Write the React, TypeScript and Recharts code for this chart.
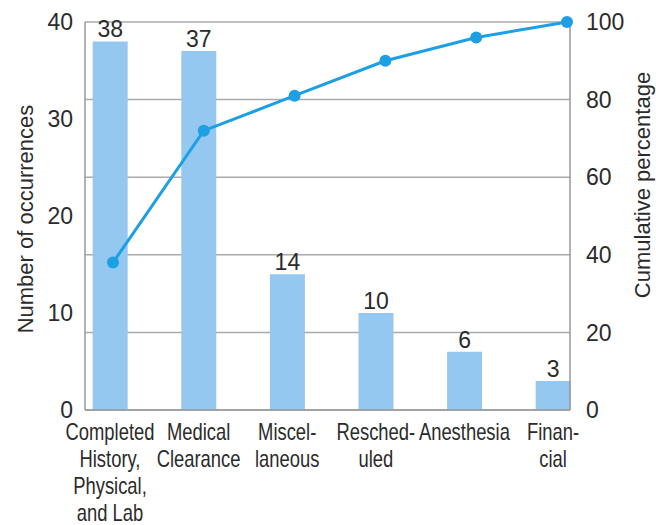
import React from "react";
import {
  ComposedChart,
  Bar,
  Line,
  XAxis,
  YAxis,
  CartesianGrid,
  LabelList,
  Label,
} from "recharts";

const categories = [
  "Completed\nHistory,\nPhysical,\nand Lab",
  "Medical\nClearance",
  "Miscel-\nlaneous",
  "Resched-\nuled",
  "Anesthesia",
  "Finan-\ncial",
];
const occurrences = [38, 37, 14, 10, 6, 3];
const cumulativePct = [38, 72, 81, 90, 96, 100];
const leftTicks = [0, 10, 20, 30, 40];
const rightTicks = [0, 20, 40, 60, 80, 100];

const data = categories.map((name, i) => ({
  name,
  count: occurrences[i],
  cum: cumulativePct[i],
}));

const FONT = '"Liberation Sans", Arial, sans-serif';
const TEXT = "#2b2b2b";

// category labels in the original use a condensed face, so squeeze them a bit
function CategoryTick(props: any) {
  const { x, y, payload } = props;
  const lines = String(payload.value).split("\n");
  return (
    <text
      x={x}
      y={y}
      textAnchor="middle"
      fill={TEXT}
      fontSize={23}
      fontFamily={FONT}
      transform={`translate(${x},0) scale(0.8,1) translate(${-x},0)`}
    >
      {lines.map((l, i) => (
        <tspan key={i} x={x} dy={i === 0 ? 22 : 27}>
          {l}
        </tspan>
      ))}
    </text>
  );
}

const numTick = { fill: TEXT, fontSize: 23, fontFamily: FONT };

export default function App() {
  return (
    <div style={{ position: "absolute", left: 0, top: 0, background: "#fff" }}>
      <ComposedChart
        width={656}
        height={525}
        data={data}
        margin={{ top: 22, right: 0, left: 0, bottom: 5 }}
        style={{ fontFamily: FONT }}
      >
        <CartesianGrid yAxisId="right" vertical={false} stroke="#aaaaaa" strokeWidth={1.5} />
        <XAxis
          dataKey="name"
          scale="point"
          padding={{ left: 25, right: 17 }}
          height={110}
          tickLine={false}
          axisLine={{ stroke: "#999999", strokeWidth: 1.5 }}
          tick={<CategoryTick />}
          interval={0}
        />
        <XAxis xAxisId="line" dataKey="name" scale="point" padding={{ left: 28, right: 3 }} hide />
        <YAxis
          yAxisId="left"
          width={85}
          domain={[0, 40]}
          ticks={leftTicks}
          tickLine={false}
          tickMargin={6}
          axisLine={{ stroke: "#999999", strokeWidth: 1.5 }}
          tick={numTick}
        >
          <Label
            value="Number of occurrences"
            angle={-90}
            position="center"
            dx={-17}
            dy={3}
            fill={TEXT}
            fontSize={22}
            fontFamily={FONT}
          />
        </YAxis>
        <YAxis
          yAxisId="right"
          orientation="right"
          width={86}
          domain={[0, 100]}
          ticks={rightTicks}
          tickLine={false}
          tickMargin={10}
          axisLine={{ stroke: "#999999", strokeWidth: 1.5 }}
          tick={numTick}
        >
          <Label
            value="Cumulative percentage"
            angle={-90}
            position="center"
            dx={29}
            dy={-31}
            fill={TEXT}
            fontSize={22}
            fontFamily={FONT}
          />
        </YAxis>
        <Bar yAxisId="left" dataKey="count" barSize={35} fill="#95c8f1" isAnimationActive={false}>
          <LabelList
            dataKey="count"
            position="top"
            offset={4}
            fill={TEXT}
            fontSize={23}
            fontFamily={FONT}
          />
        </Bar>
        <Line
          yAxisId="right"
          xAxisId="line"
          dataKey="cum"
          stroke="#1ca0e3"
          strokeWidth={3}
          dot={{ r: 6, fill: "#1ca0e3", stroke: "#1ca0e3", strokeWidth: 0 }}
          isAnimationActive={false}
        />
      </ComposedChart>
    </div>
  );
}
